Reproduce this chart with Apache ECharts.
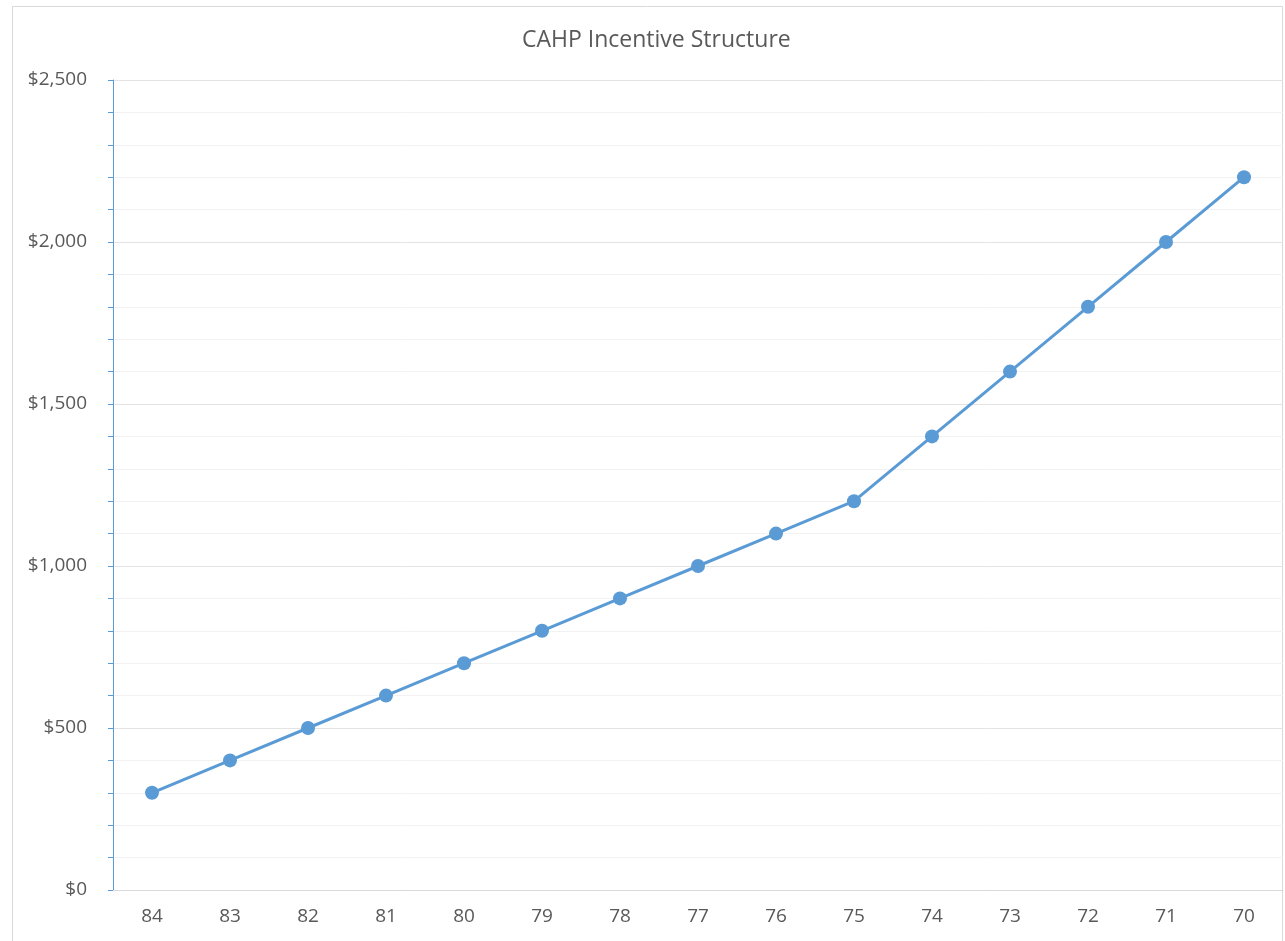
<!DOCTYPE html>
<html><head><meta charset="utf-8">
<script src="https://cdn.jsdelivr.net/npm/echarts@6/dist/echarts.min.js"></script>
<style>html,body{margin:0;padding:0;background:#fff}#c{width:1285px;height:941px}</style>
</head><body><div id="c"></div>
<script>
const categories = ['84','83','82','81','80','79','78','77','76','75','74','73','72','71','70'];
const incentive = [300,400,500,600,700,800,900,1000,1100,1200,1400,1600,1800,2000,2200];
const titleText = 'CAHP Incentive Structure';

const chart = echarts.init(document.getElementById('c'));
const font = '"Open Sans", "Noto Sans", sans-serif';
chart.setOption({
  animation: false,
  graphic: [{type:'rect', shape:{x:12.5,y:6.5,width:1270,height:960}, style:{fill:'none',stroke:'#d9d9d9',lineWidth:1}, silent:true}],
  title: {text: titleText, left: 517, top: 24, textStyle:{fontFamily:font, fontSize:23, fontWeight:'normal', color:'#595959'}},
  grid: {left:113, right:2, top:80, bottom:51, containLabel:false},
  xAxis: {type:'category', data:categories, boundaryGap:true,
    axisLine:{lineStyle:{color:'#d9d9d9', width:1}}, axisTick:{show:false},
    axisLabel:{fontFamily:font, fontSize:19, color:'#595959', margin:17}},
  yAxis: {type:'value', min:0, max:2500, interval:500,
    axisLine:{show:true, lineStyle:{color:'#5b9bd5', width:1}},
    axisTick:{show:true, length:5, lineStyle:{color:'#5b9bd5'}},
    minorTick:{show:true, splitNumber:5, length:5, lineStyle:{color:'#5b9bd5'}},
    splitLine:{lineStyle:{color:'#e3e3e3', width:1}},
    minorSplitLine:{show:true, lineStyle:{color:'#f2f2f2', width:1}},
    axisLabel:{fontFamily:font, fontSize:19, color:'#595959', margin:26,
      formatter: v => '$' + v.toLocaleString('en-US')}},
  series: [{type:'line', data:incentive, symbol:'circle', symbolSize:14,
    lineStyle:{color:'#5b9bd5', width:3}, itemStyle:{color:'#5b9bd5'}}]
});
</script></body></html>
